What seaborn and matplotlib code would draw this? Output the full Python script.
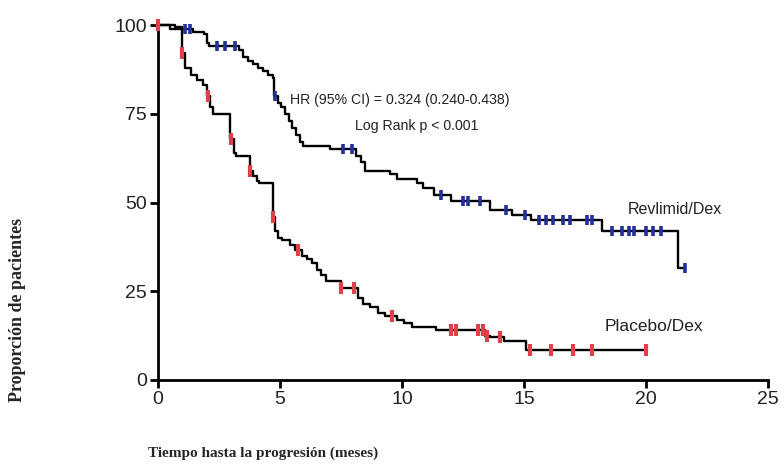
import numpy as np
import pandas as pd
import matplotlib
matplotlib.use("Agg")
import matplotlib.pyplot as plt
import seaborn as sns

# --- data ---
placebo_t = [0, 0.5, 1.0, 1.1, 1.35, 1.6, 1.85, 2.0, 2.15, 2.25, 2.95, 3.1, 3.2, 3.75, 3.9, 4.05,
             4.15, 4.7, 4.8, 4.9, 5.1, 5.4, 5.6, 5.9, 6.1, 6.3, 6.5, 6.7, 6.9, 7.5, 8.2, 8.4,
             8.7, 9.0, 9.3, 9.8, 10.1, 10.4, 11.4, 13.4, 13.6, 14.2, 15.1, 20.0]
placebo_s = [100, 99, 92, 88, 86, 84.5, 83, 80, 77, 75, 68, 64, 63, 59, 57.5, 56,
             55.5, 46, 42, 40, 39.5, 38, 36.5, 35, 34, 33, 31, 29.5, 28, 26, 23, 21.5,
             20.5, 19, 18, 17, 16, 15, 14.2, 12.5, 12, 11, 8.5, 8.5]
placebo_cens = [0.0, 1.0, 2.05, 3.0, 3.75, 4.72, 5.75, 7.5, 8.05, 9.6, 12.0, 12.2, 13.1, 13.3,
                13.5, 14.0, 15.25, 16.1, 17.0, 17.8, 20.0]

revl_t = [0, 0.7, 1.0, 1.45, 1.9, 2.0, 2.1, 3.3, 3.5, 3.7, 3.9, 4.1, 4.3, 4.5, 4.7, 4.75, 4.9,
          5.05, 5.2, 5.35, 5.5, 5.65, 5.8, 5.95, 7.05, 8.1, 8.3, 8.5, 9.5, 9.8, 10.6, 10.85,
          11.3, 12.0, 13.6, 14.5, 15.3, 18.2, 21.3, 21.6]
revl_s = [100, 99.5, 99, 98, 97.5, 95, 94, 93, 91, 90, 89, 88, 87, 86, 85, 80, 78,
          77, 75, 73, 71, 69, 67, 66, 65, 63, 61.5, 59, 58, 56.5, 55.5, 54,
          52, 50.5, 48, 46.5, 45, 42, 31.5, 31.5]
revl_cens = [1.1, 1.3, 2.4, 2.75, 3.15, 4.8, 7.6, 7.95, 11.6, 12.5, 12.7, 13.2, 14.25, 15.05,
             15.6, 15.9, 16.2, 16.6, 16.9, 17.6, 17.8, 18.6, 19.0, 19.3, 19.5, 20.0, 20.3,
             20.6, 21.6]

x_ticks = [0, 5, 10, 15, 20, 25]
y_ticks = [0, 25, 50, 75, 100]

labels = {"revl": "Revlimid/Dex", "plac": "Placebo/Dex"}
hr_text = "HR (95% CI) = 0.324 (0.240-0.438)"
p_text = "Log Rank p < 0.001"
xlabel = "Tiempo hasta la progresión (meses)"
ylabel = "Proporción de pacientes"


def step_value(ts, ss, c):
    ts = np.asarray(ts)
    idx = np.searchsorted(ts, c, side="right") - 1
    return np.asarray(ss)[np.clip(idx, 0, len(ss) - 1)]


sns.set_style("ticks")
plt.rcParams["font.family"] = ["Liberation Sans", "DejaVu Sans"]

fig = plt.figure(figsize=(7.84, 4.68), dpi=100)
ax = fig.add_axes([158 / 784, 88 / 468, 610 / 784, 355 / 468])

line_kw = dict(drawstyle="steps-post", color="black", linewidth=1.7,
               estimator=None, sort=False, clip_on=False, ax=ax)
sns.lineplot(x=placebo_t, y=placebo_s, **line_kw)
sns.lineplot(x=revl_t, y=revl_s, **line_kw)

pc = np.array(placebo_cens)
rc = np.array(revl_cens)
ax.plot(pc, step_value(placebo_t, placebo_s, pc), linestyle="none", marker="|",
        markersize=8, markeredgewidth=3, color="#e0404a", clip_on=False, zorder=4)
ax.plot(rc, step_value(revl_t, revl_s, rc), linestyle="none", marker="|",
        markersize=7, markeredgewidth=2.6, color="#23309a", clip_on=False, zorder=4)

ax.set_xlim(0, 25)
ax.set_ylim(0, 100)
ax.set_xticks(x_ticks)
ax.set_yticks(y_ticks)
ax.tick_params(axis="both", labelsize=14, width=2, length=6, color="black",
               labelcolor="#222222", pad=2)
for s in ["left", "bottom"]:
    ax.spines[s].set_linewidth(2)
    ax.spines[s].set_color("black")
sns.despine(ax=ax)
ax.set_xlabel("")
ax.set_ylabel("")

ax.text(19.25, 47.9, labels["revl"], fontsize=11.5, va="center", ha="left", color="#222222")
ax.text(18.3, 15.2, labels["plac"], fontsize=12.5, va="center", ha="left", color="#222222")
ax.text(5.4, 78.9, hr_text, fontsize=10.2, va="center", ha="left", color="#222222")
ax.text(8.07, 71.5, p_text, fontsize=10.2, va="center", ha="left", color="#222222")

fig.text(148 / 784, 1 - 453 / 468, xlabel, fontsize=11, fontweight="bold",
         family=["Liberation Serif", "DejaVu Serif"], ha="left", va="center")
fig.text(18 / 784, 1 - 310 / 468, ylabel, fontsize=13, fontweight="bold", rotation=90,
         family=["Liberation Serif", "DejaVu Serif"], ha="center", va="center")

fig.savefig("out.png", dpi=100, facecolor="white")
